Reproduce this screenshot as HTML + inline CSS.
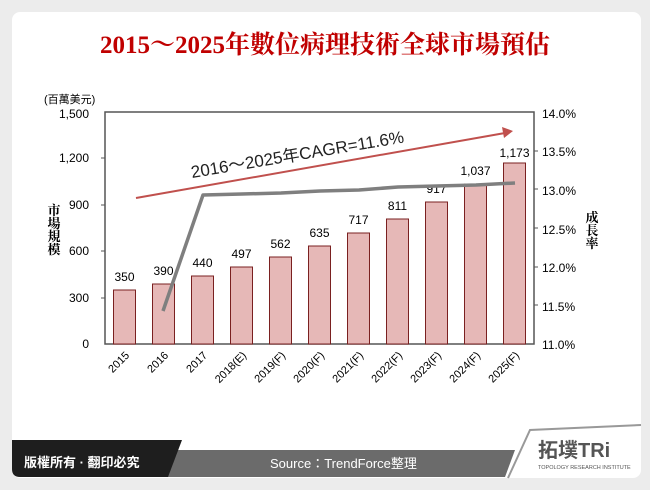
<!DOCTYPE html>
<html><head><meta charset="utf-8"><style>
body{margin:0;width:650px;height:485px;background:#ececec;overflow:hidden;font-family:"Liberation Sans","Noto Sans CJK TC",sans-serif}
</style></head><body>
<svg width="650" height="485" xmlns="http://www.w3.org/2000/svg" font-family="Liberation Sans, Noto Sans CJK TC, sans-serif">
<rect x="12" y="12" width="629" height="466" rx="8" fill="#fff"/>
<text x="325" y="53" text-anchor="middle" font-family="Liberation Serif, Noto Serif CJK SC, serif" font-weight="bold" font-size="25" fill="#c00000">2015～2025年數位病理技術全球市場預估</text>
<text x="44" y="103" font-size="11" fill="#000">(百萬美元)</text>
<g font-size="12" fill="#000" text-anchor="end">
<text x="89" y="118">1,500</text><text x="89" y="162">1,200</text><text x="89" y="209">900</text><text x="89" y="255">600</text><text x="89" y="302">300</text><text x="89" y="348">0</text>
</g>
<g font-size="12" fill="#000">
<text x="542" y="118">14.0%</text><text x="542" y="156">13.5%</text><text x="542" y="195">13.0%</text><text x="542" y="234">12.5%</text><text x="542" y="272">12.0%</text><text x="542" y="311">11.5%</text><text x="542" y="349">11.0%</text>
</g>
<g font-size="13" font-weight="bold" fill="#000" text-anchor="middle" font-family="Noto Serif CJK SC, serif">
<text x="54" y="215">市</text><text x="54" y="228">場</text><text x="54" y="241">規</text><text x="54" y="254">模</text>
<text x="592" y="222">成</text><text x="592" y="235">長</text><text x="592" y="248">率</text>
</g>
<rect x="105" y="112" width="429" height="232" fill="none" stroke="#555" stroke-width="1.5"/>
<g stroke="#555"><line x1="101" y1="158" x2="105" y2="158"/><line x1="101" y1="205" x2="105" y2="205"/><line x1="101" y1="251" x2="105" y2="251"/><line x1="101" y1="298" x2="105" y2="298"/>
<line x1="534" y1="151" x2="538" y2="151"/><line x1="534" y1="189" x2="538" y2="189"/><line x1="534" y1="228" x2="538" y2="228"/><line x1="534" y1="267" x2="538" y2="267"/><line x1="534" y1="305" x2="538" y2="305"/></g>
<g fill="#e6b8b7" stroke="#7a2020" stroke-width="1">
<rect x="113.5" y="290" width="22" height="54"/>
<rect x="152.5" y="284" width="22" height="60"/>
<rect x="191.5" y="276" width="22" height="68"/>
<rect x="230.5" y="267" width="22" height="77"/>
<rect x="269.5" y="257" width="22" height="87"/>
<rect x="308.5" y="246" width="22" height="98"/>
<rect x="347.5" y="233" width="22" height="111"/>
<rect x="386.5" y="219" width="22" height="125"/>
<rect x="425.5" y="202" width="22" height="142"/>
<rect x="464.5" y="184" width="22" height="160"/>
<rect x="503.5" y="163" width="22" height="181"/>
</g>
<g font-size="12" fill="#000" text-anchor="middle">
<text x="124.5" y="281">350</text><text x="163.5" y="275">390</text><text x="202.5" y="267">440</text><text x="241.5" y="258">497</text><text x="280.5" y="248">562</text><text x="319.5" y="237">635</text><text x="358.5" y="224">717</text><text x="397.5" y="210">811</text><text x="436.5" y="193">917</text><text x="475.5" y="175">1,037</text><text x="514.5" y="157">1,173</text>
</g>
<polyline points="163,311 203,195 242,194 281,193 320,191 359,190 398,187 437,186 476,185 515,183" fill="none" stroke="#7f7f7f" stroke-width="3.5" stroke-linejoin="round"/>
<line x1="136" y1="198" x2="505" y2="133" stroke="#c0504d" stroke-width="2"/>
<polygon points="513,131 502,127 504,138" fill="#c0504d"/>
<text x="0" y="0" font-size="17" fill="#222" transform="translate(192,178) rotate(-9.5)">2016～2025年CAGR=11.6%</text>
<g font-size="11" fill="#000" text-anchor="end">
<text transform="translate(130,356) rotate(-45)">2015</text>
<text transform="translate(169,356) rotate(-45)">2016</text>
<text transform="translate(208,356) rotate(-45)">2017</text>
<text transform="translate(247,356) rotate(-45)">2018(E)</text>
<text transform="translate(286,356) rotate(-45)">2019(F)</text>
<text transform="translate(325,356) rotate(-45)">2020(F)</text>
<text transform="translate(364,356) rotate(-45)">2021(F)</text>
<text transform="translate(403,356) rotate(-45)">2022(F)</text>
<text transform="translate(442,356) rotate(-45)">2023(F)</text>
<text transform="translate(481,356) rotate(-45)">2024(F)</text>
<text transform="translate(520,356) rotate(-45)">2025(F)</text>
</g>
<polygon points="170,450 515,450 505,477 160,477" fill="#6b6b6b"/>
<path d="M12,440 L182,440 L168,477 L20,477 Q12,477 12,469 Z" fill="#1e1e1e"/>
<polygon points="530,430 641,425 641,470 Q641,478 633,478 L508,478" fill="#fff"/>
<path d="M508,478 L530,430 L641,425" fill="none" stroke="#999" stroke-width="2"/>
<text x="24" y="467" font-size="13" font-weight="bold" fill="#fff">版權所有 · 翻印必究</text>
<text x="270" y="468" font-size="13" fill="#fff">Source：TrendForce整理</text>
<text x="538" y="457" font-size="20" font-weight="bold" fill="#555">拓墣TRi</text>
<text x="538" y="469" font-size="5.5" fill="#555">TOPOLOGY RESEARCH INSTITUTE</text>
</svg>
</body></html>
